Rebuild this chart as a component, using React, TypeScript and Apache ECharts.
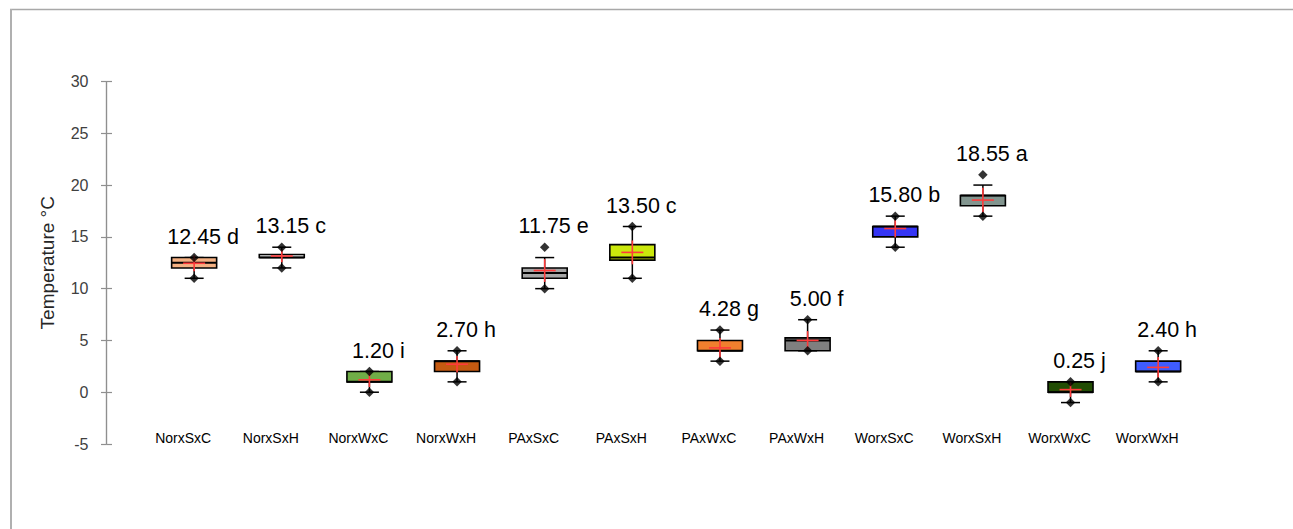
import React, { useEffect, useRef } from "react";
import * as echarts from "echarts";

const categories = ["NorxSxC", "NorxSxH", "NorxWxC", "NorxWxH", "PAxSxC", "PAxSxH", "PAxWxC", "PAxWxH", "WorxSxC", "WorxSxH", "WorxWxC", "WorxWxH"];
const whiskerLow = [11, 12, 0, 1, 10, 11, 3, 4, 14, 17, -1, 1];
const q1 = [12, 13, 1, 2, 11, 12.75, 4, 4, 15, 18, 0, 2];
const median = [12.5, 13, 1, 3, 11.5, 13, 4, 5, 16, 19, 0, 2];
const q3 = [13, 13.3, 2, 3, 12, 14.25, 5, 5.25, 16, 19, 1, 3];
const whiskerHigh = [13, 14, 2, 4, 13, 16, 6, 7, 17, 20, 1, 4];
const minPoints = [11, 12, 0, 1, 10, 11, 3, 4, 14, 17, -1, 1];
const maxPoints = [13, 14, 2, 4, 14, 16, 6, 7, 17, 21, 1, 4];
const means = [12.45, 13.15, 1.2, 2.7, 11.75, 13.5, 4.28, 5.0, 15.8, 18.55, 0.25, 2.4];
const sds = [0.76, 0.6, 0.7, 0.8, 1.1, 1.15, 0.95, 0.9, 0.85, 1.2, 0.7, 1.0];
const letters = ["d", "c", "i", "h", "e", "c", "g", "f", "b", "a", "j", "h"];
const boxColors = ["#f4b183", "#e8e8e8", "#70ad47", "#c55a11", "#a6a6a6", "#cbe80c", "#f07f2e", "#7f7f7f", "#3535f5", "#82958f", "#224d04", "#3f5cff"];
const yTicks = { min: -5, max: 30, interval: 5 };

export default function App() {
  const ref = useRef<HTMLDivElement>(null);
  useEffect(() => {
    document.body.style.margin = "0";
    const chart = echarts.init(ref.current!, null, { renderer: "svg" });
    const boxData = categories.map((_, i) => [i + 1, whiskerLow[i], q1[i], median[i], q3[i], whiskerHigh[i], means[i], sds[i], maxPoints[i]]);
    const pointData = [
      ...minPoints.map((v, i) => [i + 1, v]),
      ...maxPoints.map((v, i) => [i + 1, v]),
    ];
    const font = "'Liberation Sans', Arial, sans-serif";
    const option: any = {
      animation: false,
      backgroundColor: "#ffffff",
      grid: { left: 106.5, top: 81.5, height: 362.5, width: 1139.3 },
      xAxis: {
        type: "value",
        min: 0,
        max: 13,
        interval: 1,
        axisLine: { show: false },
        axisTick: { show: false },
        splitLine: { show: false },
        axisLabel: {
          margin: -6,
          verticalAlign: "middle",
          fontSize: 14,
          color: "#000",
          fontFamily: font,
          padding: [0, 22, 0, 0],
          formatter: (v: number) => categories[v - 1] ?? "",
        },
      },
      yAxis: [
        {
          type: "value",
          ...yTicks,
          name: "Temperature °C",
          nameLocation: "middle",
          nameGap: 50,
          nameTextStyle: { fontSize: 19, color: "#262626", fontFamily: font },
          axisLine: { show: true, lineStyle: { color: "#8f8f8f", width: 1.2 } },
          axisTick: { show: true, length: 5.5, lineStyle: { color: "#8f8f8f", width: 1.2 } },
          axisLabel: { margin: 18, fontSize: 16, color: "#404040", fontFamily: font },
          splitLine: { show: false },
        },
        {
          type: "value",
          ...yTicks,
          position: "left",
          axisLine: { show: true, lineStyle: { color: "#8f8f8f", width: 1.2 } },
          axisTick: { show: true, inside: true, length: 5.5, lineStyle: { color: "#8f8f8f", width: 1.2 } },
          axisLabel: { show: false },
          splitLine: { show: false },
        },
      ],
      graphic: [
        { type: "line", shape: { x1: 10, y1: 9.5, x2: 1293, y2: 9.5 }, style: { stroke: "#a8a8a8", lineWidth: 1.3 } },
        { type: "line", shape: { x1: 11, y1: 9, x2: 11, y2: 529 }, style: { stroke: "#b0b0b0", lineWidth: 2 } },
      ],
      series: [
        {
          type: "custom",
          yAxisIndex: 0,
          data: boxData,
          z: 2,
          renderItem: (params: any, api: any) => {
            const i = params.dataIndex;
            const xv = api.value(0);
            const cx = api.coord([xv, 0])[0];
            const y = (v: number) => api.coord([xv, v])[1];
            const wl = y(api.value(1));
            const b1 = y(api.value(2));
            const md = y(api.value(3));
            const b3 = y(api.value(4));
            const wh = y(api.value(5));
            const mn = api.value(6);
            const sd = api.value(7);
            const mx = y(api.value(8));
            const hw = 22.5;
            const cap = 9.5;
            const mh = 11;
            const blk = { stroke: "#000", lineWidth: 1.5 };
            const red = { stroke: "#ff3b3b", lineWidth: 1.6 };
            const ln = (x1: number, y1: number, x2: number, y2: number, style: any) => ({ type: "line", shape: { x1, y1, x2, y2 }, style });
            return {
              type: "group",
              children: [
                ln(cx, b3, cx, wh, blk),
                ln(cx, b1, cx, wl, blk),
                ln(cx - cap, wh, cx + cap, wh, blk),
                ln(cx - cap, wl, cx + cap, wl, blk),
                { type: "rect", shape: { x: cx - hw, y: b3, width: hw * 2, height: b1 - b3 }, style: { fill: boxColors[i], stroke: "#000", lineWidth: 1.6 } },
                ln(cx - hw, md, cx + hw, md, { stroke: "#000", lineWidth: 2 }),
                ln(cx, y(mn + sd), cx, y(mn - sd), red),
                ln(cx - mh, y(mn), cx + mh, y(mn), red),
                {
                  type: "text",
                  style: {
                    text: `${means[i].toFixed(2)} ${letters[i]}`,
                    x: cx + 9,
                    y: mx - 21,
                    align: "center",
                    verticalAlign: "middle",
                    fontSize: 21.5,
                    fontFamily: font,
                    fill: "#000",
                  },
                },
              ],
            };
          },
        },
        {
          type: "scatter",
          yAxisIndex: 0,
          data: pointData,
          symbol: "diamond",
          symbolSize: 9.5,
          itemStyle: { color: "#000" },
          z: 5,
        },
      ],
    };
    chart.setOption(option);
    return () => chart.dispose();
  }, []);
  return <div ref={ref} style={{ width: 1293, height: 529 }} />;
}
